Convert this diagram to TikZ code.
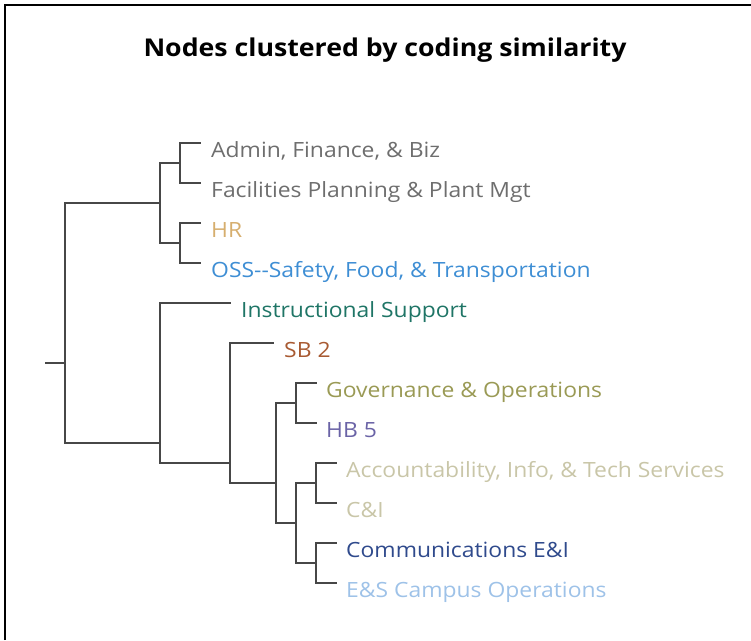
\documentclass[tikz,border=0pt]{standalone}
\usepackage{fontspec}
\setmainfont{Open Sans}[FakeStretch=1.09]
\begin{document}
\begin{tikzpicture}[x=1pt,y=-1pt,
  br/.style={draw=black!72, line width=2pt, line cap=rect},
  lbl/.style={anchor=base west, inner sep=0pt, font=\fontsize{21}{24}\selectfont},
  frameline/.style={draw=black, line width=2pt}]
\useasboundingbox (0,0) rectangle (751,640);
\definecolor{cgray}{HTML}{6E6E6E}
\definecolor{chr}{HTML}{D6AE6E}
\definecolor{coss}{HTML}{3E8ED4}
\definecolor{cins}{HTML}{1F7566}
\definecolor{csb}{HTML}{A85A32}
\definecolor{cgov}{HTML}{9A9A55}
\definecolor{chb}{HTML}{6A63A6}
\definecolor{cacc}{HTML}{C9C6A8}
\definecolor{ccom}{HTML}{2F4A8C}
\definecolor{ces}{HTML}{9EC2E8}
% frame
\coordinate (f0) at (5,640);
\coordinate (f1) at (5,5);
\coordinate (f2) at (751,5);
\draw[frameline] (f0) -- (f1) -- (f2);
% title
\node[font=\fontsize{24.5}{28}\selectfont\bfseries, anchor=base, inner sep=0pt] (title) at (385,56) {Nodes clustered by coding similarity};
% leaf labels (baseline = leaf line y + 14)
\node[lbl, text=cgray] (l1) at (211,157) {Admin, Finance, \& Biz};
\node[lbl, text=cgray] (l2) at (211,197) {Facilities Planning \& Plant Mgt};
\node[lbl, text=chr] (l3) at (211,237) {HR};
\node[lbl, text=coss] (l4) at (211,277) {OSS-{}-Safety, Food, \& Transportation};
\node[lbl, text=cins] (l5) at (241,317) {Instructional Support};
\node[lbl, text=csb] (l6) at (284,357) {SB 2};
\node[lbl, text=cgov] (l7) at (326,397) {Governance \& Operations};
\node[lbl, text=chb] (l8) at (326,437) {HB 5};
\node[lbl, text=cacc] (l9) at (346,477) {Accountability, Info, \& Tech Services};
\node[lbl, text=cacc] (l10) at (346,517) {C\&I};
\node[lbl, text=ccom] (l11) at (346,557) {Communications E\&I};
\node[lbl, text=ces] (l12) at (346,597) {E\&S Campus Operations};
% leaf line ends
\coordinate (e1) at (200,143); \coordinate (e2) at (200,183);
\coordinate (e3) at (200,223); \coordinate (e4) at (200,263);
\coordinate (e5) at (230,303); \coordinate (e6) at (273,343);
\coordinate (e7) at (316,383); \coordinate (e8) at (316,423);
\coordinate (e9) at (336,463); \coordinate (e10) at (336,503);
\coordinate (e11) at (336,543); \coordinate (e12) at (336,583);
% internal join points
\coordinate (a) at (180,163);   % admin+facilities
\coordinate (b) at (180,243);   % hr+oss
\coordinate (c) at (160,203);   % a+b
\coordinate (g) at (296,403);   % gov+hb5
\coordinate (h) at (316,483);   % acc+ci
\coordinate (k) at (316,563);   % comm+es
\coordinate (m) at (296,523);   % h+k
\coordinate (n) at (276,483);   % g+m
\coordinate (p) at (230,463);   % sb2+n
\coordinate (q) at (160,443);   % ins+p
\coordinate (r) at (65,323);    % c+q
\coordinate (root) at (46,363);
% dendrogram
\draw[br] (e1) -| (a |- e1) -- (a |- e2) -- (e2);
\draw[br] (e3) -| (b |- e3) -- (b |- e4) -- (e4);
\draw[br] (a) -| (c |- a) -- (c |- b) -- (b);
\draw[br] (e7) -| (g |- e7) -- (g |- e8) -- (e8);
\draw[br] (e9) -| (h |- e9) -- (h |- e10) -- (e10);
\draw[br] (e11) -| (k |- e11) -- (k |- e12) -- (e12);
\draw[br] (h) -| (m |- h) -- (m |- k) -- (k);
\draw[br] (g) -| (n |- g) -- (n |- m) -- (m);
\draw[br] (e6) -| (p |- e6) -- (p |- n) -- (n);
\draw[br] (e5) -| (q |- e5) -- (q |- p) -- (p);
\draw[br] (c) -| (r |- c) -- (r |- q) -- (q);
\draw[br] (root) -- (r |- root);
\end{tikzpicture}
\end{document}
